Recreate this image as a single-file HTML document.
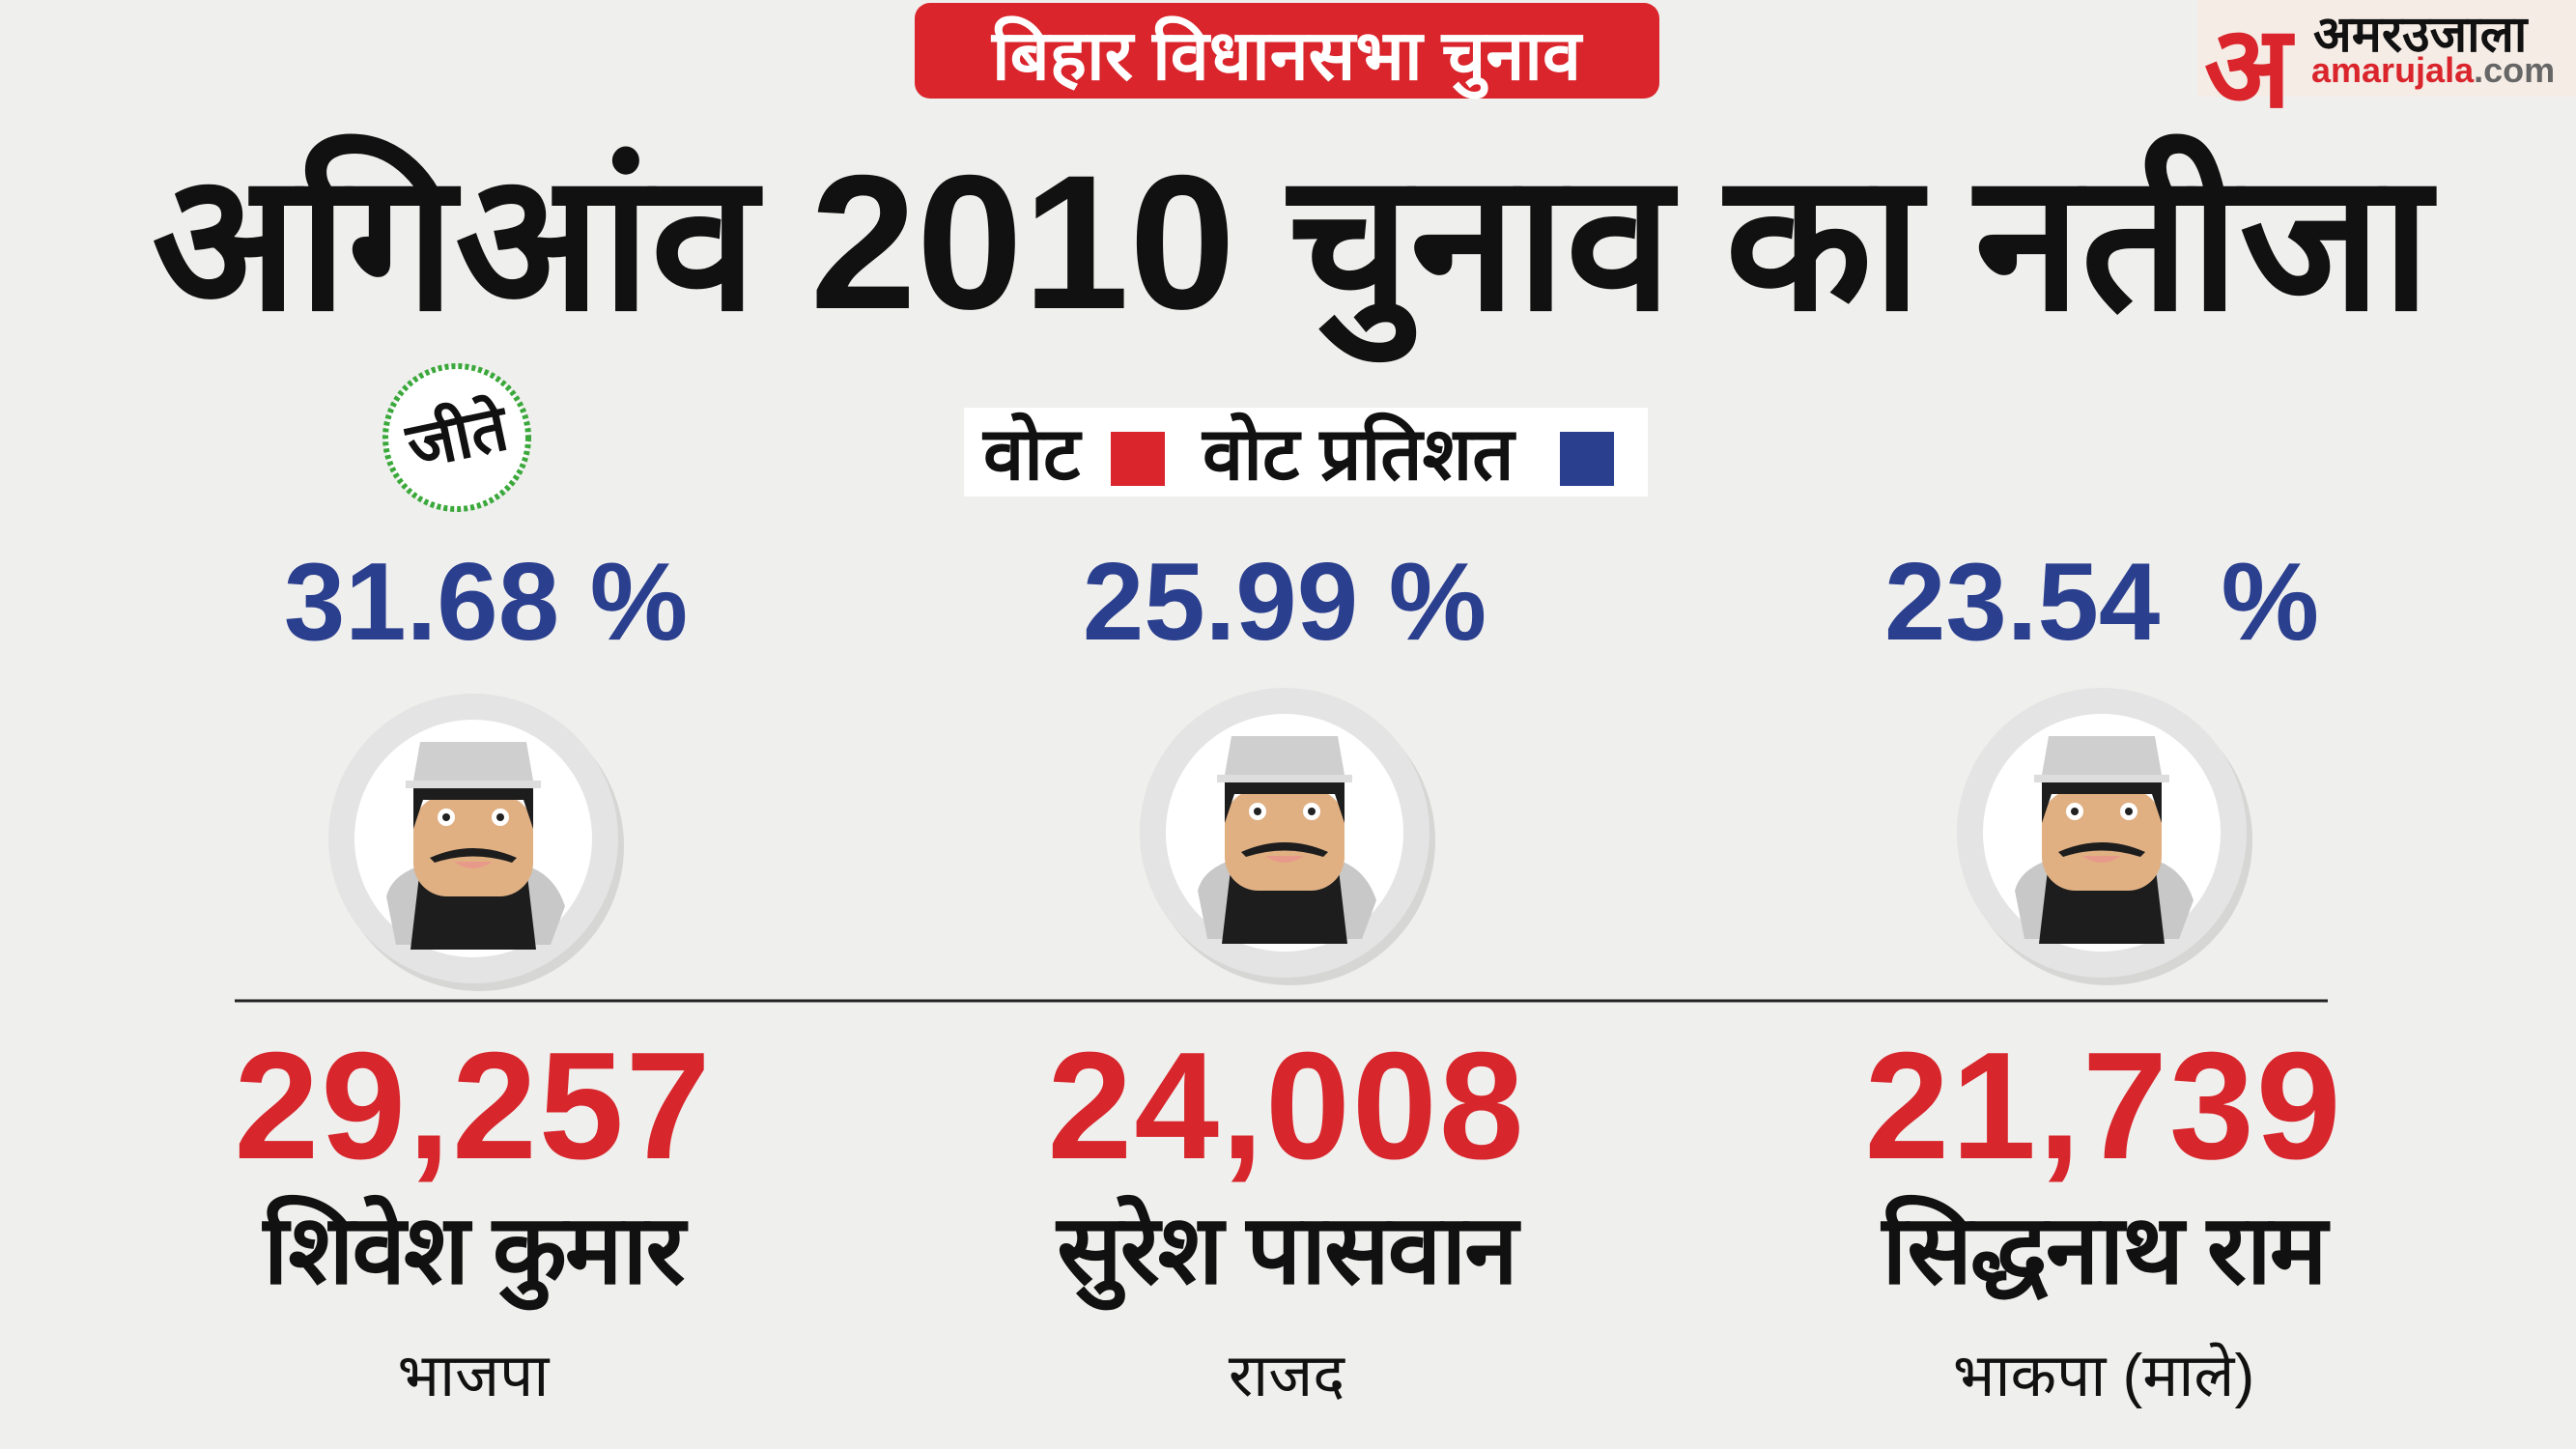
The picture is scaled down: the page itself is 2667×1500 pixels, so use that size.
<!DOCTYPE html>
<html><head><meta charset="utf-8"><style>
html,body{margin:0;padding:0}
body{width:2667px;height:1500px;position:relative;overflow:hidden;background:#efefed;font-family:"Liberation Sans","Noto Sans CJK SC",sans-serif}
.a{position:absolute}
.c{position:absolute;transform:translateX(-50%);white-space:nowrap;text-align:center}
.pct{font-size:114px;font-weight:bold;color:#2b3f8f;top:558px}
.num{font-size:158px;font-weight:bold;color:#d7262c;top:1055px;letter-spacing:2px}
.name{font-size:100px;font-weight:bold;color:#111;top:1222px;letter-spacing:-2px}
.party{font-size:62px;color:#111;top:1380px}
</style></head><body>
<div class="a" style="left:947px;top:3px;width:771px;height:99px;background:#d9252b;border-radius:16px"></div>
<div class="c" style="left:1332px;top:6px;font-size:72px;font-weight:bold;color:#fff">बिहार विधानसभा चुनाव</div>
<div class="a" style="left:2275px;top:0;width:392px;height:100px;background:#f5ece6"></div>
<div class="a" style="left:2282px;top:-16px;font-size:118px;font-weight:bold;color:#d9252b">अ</div>
<div class="a" style="left:2395px;top:-2px;font-size:52px;font-weight:bold;color:#111">अमरउजाला</div>
<div class="a" style="left:2393px;top:52px;font-size:36px;font-weight:bold;color:#d9252b">amarujala<span style="color:#666">.com</span></div>
<div class="c" style="left:1337px;top:108px;font-size:198px;font-weight:bold;color:#111">अगिआंव 2010 चुनाव का नतीजा</div>
<svg class="a" style="left:390px;top:370px" width="166" height="166"><circle cx="83" cy="83" r="74" fill="#fff" stroke="#3aa83a" stroke-width="6" stroke-dasharray="4 3"/></svg>
<div class="c" style="left:473px;top:405px;font-size:66px;font-weight:bold;color:#111;transform:translateX(-50%) rotate(-12deg)">जीते</div>
<div class="a" style="left:998px;top:422px;width:708px;height:92px;background:#fff"></div>
<div class="a" style="left:1018px;top:416px;font-size:76px;font-weight:bold;color:#111">वोट</div>
<div class="a" style="left:1150px;top:447px;width:56px;height:56px;background:#d9252b"></div>
<div class="a" style="left:1245px;top:416px;font-size:76px;font-weight:bold;color:#111">वोट प्रतिशत</div>
<div class="a" style="left:1615px;top:447px;width:56px;height:56px;background:#2b3f8f"></div>
<div class="c pct" style="left:503px">31.68 %</div>
<div class="c pct" style="left:1330px">25.99 %</div>
<div class="c pct" style="left:2176px">23.54 &nbsp;%</div>
<svg class="a" style="left:0;top:0" width="2667" height="1500">
<defs><g id="f">
<circle cx="6" cy="8" r="150" fill="#bdbdbd" opacity=".5"/>
<circle r="150" fill="#e4e4e4"/><circle r="123" fill="#fff"/>
<path d="M-90 60 Q-85 40 -60 30 L60 30 Q85 40 95 70 L80 110 L-80 110Z" fill="#c8c8c8"/>
<path d="M-55 30 L55 30 L65 115 L-65 115Z" fill="#1d1d1d"/>
<rect x="-62" y="-45" width="124" height="105" rx="35" fill="#e0b083"/>
<path d="M-55 -100 L55 -100 L62 -60 L-62 -60Z" fill="#cfcfcf"/>
<path d="M-62 -60 L-62 -10 L-52 -40 L52 -40 L62 -10 L62 -60Z" fill="#1d1d1d"/>
<rect x="-70" y="-60" width="140" height="8" fill="#ddd"/>
<circle cx="-28" cy="-22" r="9" fill="#fff"/><circle cx="28" cy="-22" r="9" fill="#fff"/>
<circle cx="-28" cy="-22" r="4" fill="#222"/><circle cx="28" cy="-22" r="4" fill="#222"/>
<path d="M-45 20 Q0 0 45 20 L40 25 Q0 12 -40 25Z" fill="#1d1d1d"/>
<path d="M-20 24 Q0 38 20 24Z" fill="#e89a8a"/>
</g></defs>
<use href="#f" x="490" y="868"/><use href="#f" x="1330" y="862"/><use href="#f" x="2176" y="862"/>
<line x1="243" y1="1036" x2="2410" y2="1036" stroke="#222" stroke-width="3"/>
</svg>
<div class="c num" style="left:490px">29,257</div>
<div class="c num" style="left:1332px">24,008</div>
<div class="c num" style="left:2178px">21,739</div>
<div class="c name" style="left:490px">शिवेश कुमार</div>
<div class="c name" style="left:1332px">सुरेश पासवान</div>
<div class="c name" style="left:2178px">सिद्धनाथ राम</div>
<div class="c party" style="left:490px">भाजपा</div>
<div class="c party" style="left:1332px">राजद</div>
<div class="c party" style="left:2178px">भाकपा (माले)</div>
</body></html>
